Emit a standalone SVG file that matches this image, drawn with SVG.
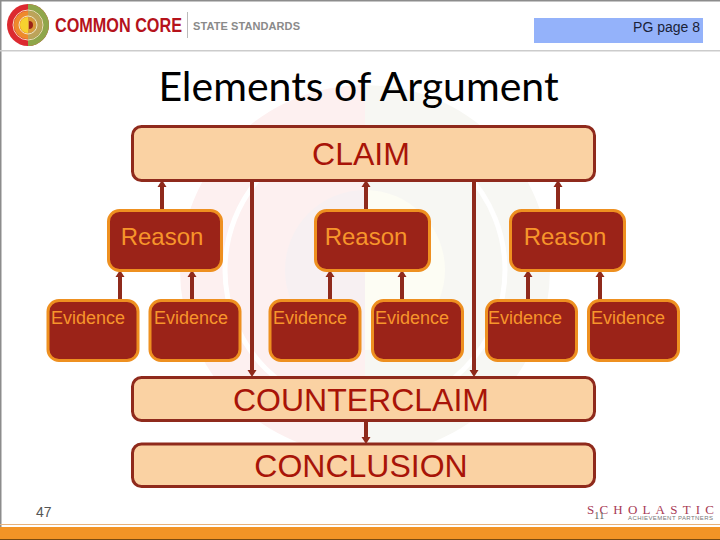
<svg xmlns="http://www.w3.org/2000/svg" width="720" height="540" viewBox="0 0 720 540">
<style>
text{font-family:"Liberation Sans",Arial,sans-serif}
.wide{fill:#fad2a3;stroke:#8f2a1c;stroke-width:3}
.red{fill:#9b2318;stroke:#ee9020;stroke-width:3}
.wt{fill:#a81408;font-size:32px;text-anchor:middle}
.rt{fill:#f7952b;font-size:24px;text-anchor:middle}
.et{fill:#f7952b;font-size:18px;text-anchor:middle}
.c{fill:none;stroke:#8f2a1c;stroke-width:4}
</style>
<defs>
<marker id="a" markerUnits="userSpaceOnUse" markerWidth="9" markerHeight="10" refX="0" refY="5" orient="auto"><path d="M0 0.500L7 5L0 9.500Z" fill="#8f2a1c"/></marker>
</defs>
<rect width="720" height="540" fill="#fff"/>
<g id="watermark" fill="none">
<path d="M365 85A185 185 0 0 0 365 455Z" fill="#fdf0f0"/>
<path d="M365 85A185 185 0 0 1 365 455Z" fill="#f7f7f3"/>
<path d="M365 130A140 140 0 0 0 365 410" stroke="#fff" stroke-width="5"/>
<path d="M365 130A140 140 0 0 1 365 410" stroke="#fff" stroke-width="5"/>
<path d="M365 190A80 80 0 0 0 365 350Z" fill="#f7f0f2"/>
<path d="M365 190A80 80 0 0 1 365 350Z" fill="#fdfdf4"/>
</g>
<g id="frame">
<rect x="0" y="0" width="720" height="1.500" fill="#8c8c8c"/>
<rect x="0" y="0" width="1.500" height="540" fill="#8c8c8c"/>
<rect x="0" y="50" width="720" height="1.500" fill="#cccccc"/>
<rect x="0" y="524" width="720" height="1" fill="#e8b27a"/>
<rect x="0" y="527" width="720" height="12" fill="#f39426"/>
<rect x="0" y="539" width="720" height="1" fill="#7a4a10"/>
</g>
<g id="logo">
<circle cx="28" cy="25" r="21" fill="#dc2a30"/>
<path d="M28 4A21 21 0 0 1 28 46Z" fill="#8fa64a"/>
<circle cx="28" cy="25" r="15" fill="none" stroke="#f3d9b8" stroke-width="1"/>
<path d="M28 11A14 14 0 0 0 28 39Z" fill="#ee8a2c"/>
<path d="M28 11A14 14 0 0 1 28 39Z" fill="#bda35a"/>
<circle cx="28" cy="25" r="9" fill="none" stroke="#f3e3c0" stroke-width="1"/>
<path d="M28 17A8 8 0 0 0 28 33Z" fill="#f6d22f"/>
<path d="M28 17A8 8 0 0 1 28 33Z" fill="#d99a3a"/>
<path d="M29 21A4 4 0 0 1 29 29Z" fill="#9b2318"/>
<text x="55" y="32" font-size="20" font-weight="bold" textLength="127" lengthAdjust="spacingAndGlyphs" fill="#b5121b">COMMON CORE</text>
<rect x="187" y="12" width="1" height="26" fill="#bbbbbb"/>
<text x="193" y="30" font-size="11" font-weight="bold" textLength="107" fill="#8a8a8a">STATE STANDARDS</text>
</g>
<g id="page-tag">
<rect x="534" y="18" width="169" height="25" fill="#94b2fa"/>
<text x="700" y="32" font-size="14" text-anchor="end" fill="#1a2238">PG page 8</text>
</g>
<text id="title" x="358.500" y="101" style="font-family:Lato,Carlito,sans-serif" font-size="41" text-anchor="middle" fill="#000">Elements of Argument</text>
<g id="connectors">
<path class="c" marker-end="url(#a)" d="M162 210V187"/>
<path class="c" marker-end="url(#a)" d="M366 210V187"/>
<path class="c" marker-end="url(#a)" d="M558 210V187"/>
<path class="c" marker-end="url(#a)" d="M120 300V277"/>
<path class="c" marker-end="url(#a)" d="M192 300V277"/>
<path class="c" marker-end="url(#a)" d="M330 300V277"/>
<path class="c" marker-end="url(#a)" d="M402 300V277"/>
<path class="c" marker-end="url(#a)" d="M528 300V277"/>
<path class="c" marker-end="url(#a)" d="M600 300V277"/>
<path class="c" marker-end="url(#a)" d="M252 181V370"/>
<path class="c" marker-end="url(#a)" d="M474 181V370"/>
<path class="c" marker-end="url(#a)" d="M366 421V437"/>
</g>
<g id="claim"><rect class="wide" x="132.500" y="126.500" width="462" height="54" rx="9"/><text class="wt" x="361" y="165">CLAIM</text></g>
<g id="reason-1"><rect class="red" x="108.500" y="210.500" width="113" height="60" rx="11"/><text class="rt" x="162" y="245">Reason</text></g>
<g id="reason-2"><rect class="red" x="315.500" y="210.500" width="114" height="60" rx="11"/><text class="rt" x="366" y="245">Reason</text></g>
<g id="reason-3"><rect class="red" x="510.500" y="210.500" width="114" height="60" rx="11"/><text class="rt" x="565" y="245">Reason</text></g>
<g id="evidence-1"><rect class="red" x="48" y="300.500" width="90" height="60" rx="11"/><text class="et" x="88" y="324">Evidence</text></g>
<g id="evidence-2"><rect class="red" x="150" y="300.500" width="90" height="60" rx="11"/><text class="et" x="191" y="324">Evidence</text></g>
<g id="evidence-3"><rect class="red" x="270" y="300.500" width="90" height="60" rx="11"/><text class="et" x="310" y="324">Evidence</text></g>
<g id="evidence-4"><rect class="red" x="372.500" y="300.500" width="90" height="60" rx="11"/><text class="et" x="412" y="324">Evidence</text></g>
<g id="evidence-5"><rect class="red" x="486.500" y="300.500" width="90" height="60" rx="11"/><text class="et" x="525" y="324">Evidence</text></g>
<g id="evidence-6"><rect class="red" x="588.500" y="300.500" width="90" height="60" rx="11"/><text class="et" x="628" y="324">Evidence</text></g>
<g id="counterclaim"><rect class="wide" x="132.500" y="377.500" width="462" height="43" rx="9"/><text class="wt" x="361" y="411">COUNTERCLAIM</text></g>
<g id="conclusion"><rect class="wide" x="132.500" y="444" width="462" height="42.500" rx="9"/><text class="wt" x="361" y="477">CONCLUSION</text></g>
<g id="footer">
<text x="36" y="517" font-size="14" fill="#555">47</text>
<text x="587" y="514" style="font-family:'Liberation Serif',serif" font-size="13" textLength="127" fill="#a83a55">SCHOLASTIC</text>
<text x="628" y="520" font-size="6" textLength="85" fill="#777">ACHIEVEMENT PARTNERS</text>
<text x="594" y="519" style="font-family:'Liberation Serif',serif" font-size="11" fill="#666">11</text>
</g>
</svg>
